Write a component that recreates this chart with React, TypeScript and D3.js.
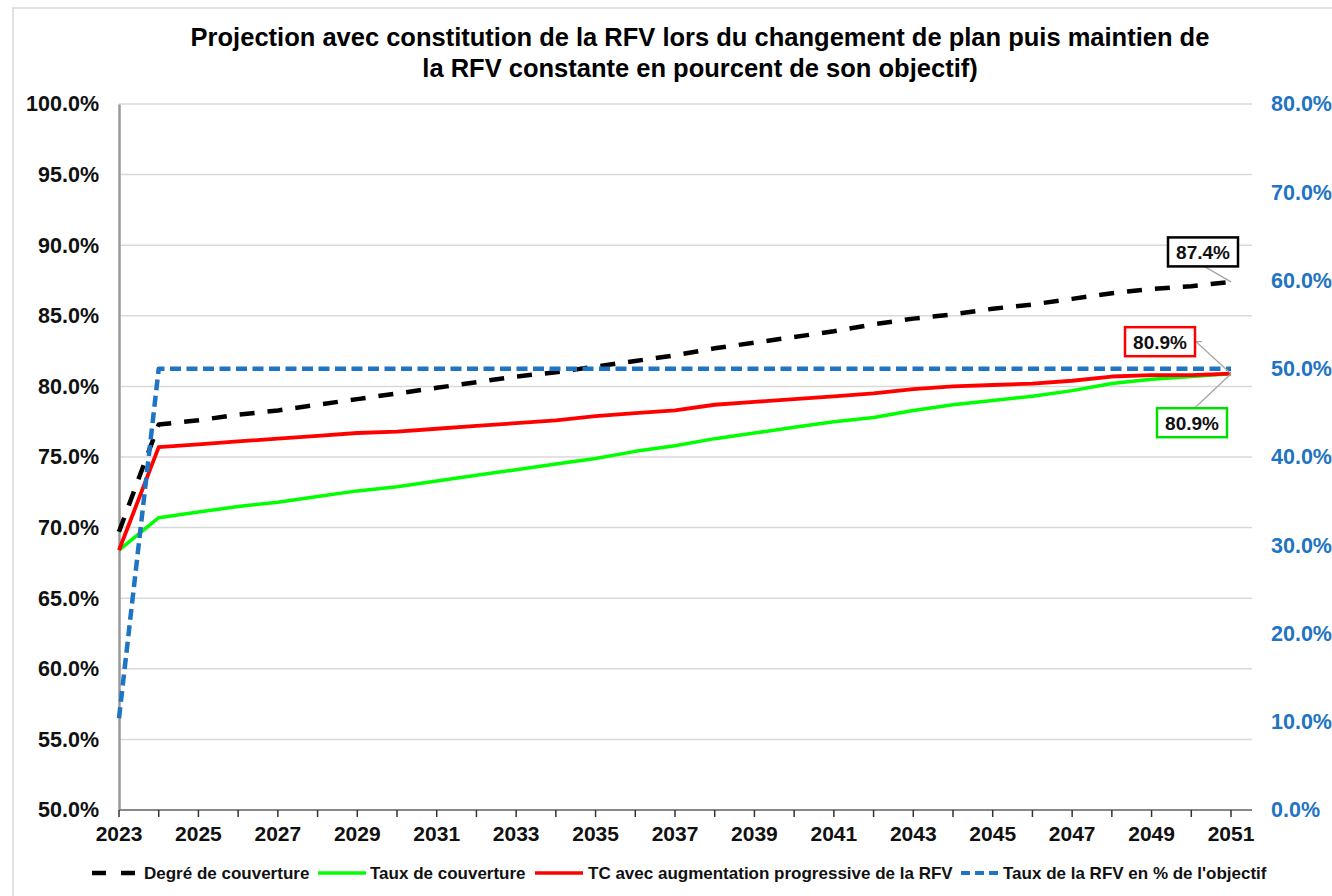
import React, { useEffect, useRef } from "react";
import * as d3 from "d3";

// years on the x axis
const years = [
  2023, 2024, 2025, 2026, 2027, 2028, 2029, 2030, 2031, 2032, 2033, 2034, 2035,
  2036, 2037, 2038, 2039, 2040, 2041, 2042, 2043, 2044, 2045, 2046, 2047, 2048,
  2049, 2050, 2051,
];

// left axis series (%)
const degreCouverture = [
  69.7, 77.3, 77.6, 78.0, 78.3, 78.7, 79.1, 79.5, 79.9, 80.3, 80.7, 81.0, 81.4,
  81.8, 82.2, 82.7, 83.1, 83.5, 83.9, 84.4, 84.8, 85.1, 85.5, 85.8, 86.2, 86.6,
  86.9, 87.1, 87.4,
];
const tauxCouverture = [
  68.4, 70.7, 71.1, 71.5, 71.8, 72.2, 72.6, 72.9, 73.3, 73.7, 74.1, 74.5, 74.9,
  75.4, 75.8, 76.3, 76.7, 77.1, 77.5, 77.8, 78.3, 78.7, 79.0, 79.3, 79.7, 80.2,
  80.5, 80.7, 80.9,
];
const tcAugmentation = [
  68.4, 75.7, 75.9, 76.1, 76.3, 76.5, 76.7, 76.8, 77.0, 77.2, 77.4, 77.6, 77.9,
  78.1, 78.3, 78.7, 78.9, 79.1, 79.3, 79.5, 79.8, 80.0, 80.1, 80.2, 80.4, 80.7,
  80.8, 80.8, 80.9,
];
// right axis series (%)
const tauxRfv = [
  10.4, 50, 50, 50, 50, 50, 50, 50, 50, 50, 50, 50, 50, 50, 50, 50, 50, 50, 50,
  50, 50, 50, 50, 50, 50, 50, 50, 50, 50,
];

const leftTicks = [50, 55, 60, 65, 70, 75, 80, 85, 90, 95, 100];
const rightTicks = [0, 10, 20, 30, 40, 50, 60, 70, 80];
const yearLabels = [
  2023, 2025, 2027, 2029, 2031, 2033, 2035, 2037, 2039, 2041, 2043, 2045, 2047,
  2049, 2051,
];

const titleLines = [
  "Projection avec constitution de la RFV lors du changement de plan puis maintien de",
  "la RFV constante en pourcent de son objectif)",
];

const seriesNames = [
  "Degré de couverture",
  "Taux de couverture",
  "TC avec augmentation progressive de la RFV",
  "Taux de la RFV en % de l'objectif",
];

const FONT = "'Liberation Sans', Arial, sans-serif";
const BLUE = "#1f74c4";

const App = () => {
  const ref = useRef(null);

  useEffect(() => {
    const svg = d3.select(ref.current);
    svg.selectAll("*").remove();

    const left = 119;
    const right = 1252;
    const top = 104;
    const bottom = 810;

    const x = d3.scaleLinear().domain([2023, 2051]).range([left, 1231]);
    const y = d3.scaleLinear().domain([50, 100]).range([bottom, top]);
    const y2 = d3.scaleLinear().domain([0, 80]).range([bottom, top]);

    // outer frame
    svg
      .append("rect")
      .attr("x", 13)
      .attr("y", 8)
      .attr("width", 1340)
      .attr("height", 900)
      .attr("fill", "#fff")
      .attr("stroke", "#d9d9d9")
      .attr("stroke-width", 1.5);

    // title
    svg
      .append("g")
      .selectAll("text")
      .data(titleLines)
      .join("text")
      .attr("x", 700)
      .attr("y", (d, i) => 46 + i * 31)
      .attr("text-anchor", "middle")
      .attr("font-family", FONT)
      .attr("font-weight", "bold")
      .attr("font-size", 25.5)
      .attr("fill", "#000")
      .text((d) => d);

    // grid
    svg
      .append("g")
      .selectAll("line")
      .data(leftTicks.filter((d) => d > 50))
      .join("line")
      .attr("x1", left)
      .attr("x2", right)
      .attr("y1", (d) => y(d))
      .attr("y2", (d) => y(d))
      .attr("stroke", "#d9d9d9")
      .attr("stroke-width", 1.5);

    // left axis
    const yAxis = svg
      .append("g")
      .attr("transform", `translate(${left},0)`)
      .call(
        d3
          .axisLeft(y)
          .tickValues(leftTicks)
          .tickSize(0)
          .tickPadding(20)
          .tickFormat((d) => d3.format(".1f")(d) + "%")
      );
    yAxis.select(".domain").attr("stroke", "#999").attr("stroke-width", 2.5);
    yAxis
      .selectAll("text")
      .attr("font-family", FONT)
      .attr("font-weight", "bold")
      .attr("font-size", 21.5)
      .attr("fill", "#111");

    // right axis
    const y2Axis = svg
      .append("g")
      .attr("transform", `translate(${right},0)`)
      .call(
        d3
          .axisRight(y2)
          .tickValues(rightTicks)
          .tickSize(0)
          .tickPadding(19)
          .tickFormat((d) => d3.format(".1f")(d) + "%")
      );
    y2Axis.select(".domain").remove();
    y2Axis
      .selectAll("text")
      .attr("font-family", FONT)
      .attr("font-weight", "bold")
      .attr("font-size", 21.5)
      .attr("fill", BLUE);

    // bottom axis
    const xAxis = svg.append("g").attr("transform", `translate(0,${bottom})`);
    xAxis
      .append("line")
      .attr("x1", left)
      .attr("x2", right)
      .attr("stroke", "#888")
      .attr("stroke-width", 2);
    xAxis
      .selectAll(".tick")
      .data(years)
      .join("line")
      .attr("class", "tick")
      .attr("x1", (d) => x(d))
      .attr("x2", (d) => x(d))
      .attr("y1", 0)
      .attr("y2", 7)
      .attr("stroke", "#333")
      .attr("stroke-width", 1.5);
    xAxis
      .selectAll("text")
      .data(yearLabels)
      .join("text")
      .attr("x", (d) => x(d))
      .attr("y", 31)
      .attr("text-anchor", "middle")
      .attr("font-family", FONT)
      .attr("font-weight", "bold")
      .attr("font-size", 21)
      .attr("fill", "#111")
      .text((d) => d);

    // lines
    const lineLeft = d3
      .line()
      .x((d, i) => x(years[i]))
      .y((d) => y(d));
    const lineRight = d3
      .line()
      .x((d, i) => x(years[i]))
      .y((d) => y2(d));

    const series = [
      { data: degreCouverture, line: lineLeft, color: "#000", width: 4.5, dash: "15,13" },
      { data: tauxCouverture, line: lineLeft, color: "#00ff00", width: 3.5, dash: null },
      { data: tcAugmentation, line: lineLeft, color: "#ff0000", width: 3.8, dash: null },
      { data: tauxRfv, line: lineRight, color: BLUE, width: 4.5, dash: "11,5.5" },
    ];

    series.forEach((s) => {
      svg
        .append("path")
        .datum(s.data)
        .attr("fill", "none")
        .attr("stroke", s.color)
        .attr("stroke-width", s.width)
        .attr("stroke-linejoin", "round")
        .attr("stroke-dasharray", s.dash)
        .attr("d", s.line);
    });

    // end labels
    const last = years.length - 1;
    const labels = [
      { value: degreCouverture[last], color: "#000", dx: -28, dy: -30, lead: [[-26, -15]] },
      { value: tcAugmentation[last], color: "#ff0000", dx: -71, dy: -32, lead: [[-35, -32], [-29, -32]] },
      { value: tauxCouverture[last], color: "#00e000", dx: -39, dy: 49, lead: [[-36, 34]] },
    ];
    labels.forEach((l) => {
      const px = x(years[last]);
      const py = y(l.value);
      const pts = [[px, py], ...l.lead.map((p) => [px + p[0], py + p[1]])];
      svg
        .append("path")
        .attr("d", d3.line()(pts.reverse()))
        .attr("fill", "none")
        .attr("stroke", "#a6a6a6")
        .attr("stroke-width", 1.3);
      const g = svg.append("g").attr("transform", `translate(${px + l.dx},${py + l.dy})`);
      g.append("rect")
        .attr("x", -35)
        .attr("y", -14.5)
        .attr("width", 70)
        .attr("height", 29)
        .attr("fill", "#fff")
        .attr("stroke", l.color)
        .attr("stroke-width", 2.5);
      g.append("text")
        .attr("text-anchor", "middle")
        .attr("dy", 7)
        .attr("font-family", FONT)
        .attr("font-weight", "bold")
        .attr("font-size", 19)
        .attr("fill", "#111")
        .text(d3.format(".1f")(l.value) + "%");
    });

    // legend
    const legendY = 873;
    const legendItems = [
      { x0: 92, x1: 137, tx: 144, color: "#000", width: 4.5, dash: "14,15" },
      { x0: 318, x1: 366, tx: 370, color: "#00ff00", width: 3.5, dash: null },
      { x0: 535, x1: 583, tx: 588, color: "#ff0000", width: 3.5, dash: null },
      { x0: 961, x1: 998, tx: 1003, color: BLUE, width: 4, dash: "9,5" },
    ];
    legendItems.forEach((item, i) => {
      svg
        .append("line")
        .attr("x1", item.x0)
        .attr("x2", item.x1)
        .attr("y1", legendY)
        .attr("y2", legendY)
        .attr("stroke", item.color)
        .attr("stroke-width", item.width)
        .attr("stroke-dasharray", item.dash);
      svg
        .append("text")
        .attr("x", item.tx)
        .attr("y", legendY + 6)
        .attr("font-family", FONT)
        .attr("font-weight", "bold")
        .attr("font-size", 17)
        .attr("fill", "#111")
        .text(seriesNames[i]);
    });
  }, []);

  return (
    <svg
      ref={ref}
      width={1332}
      height={896}
      style={{ position: "absolute", left: 0, top: 0, display: "block" }}
    ></svg>
  );
};

export default App;
